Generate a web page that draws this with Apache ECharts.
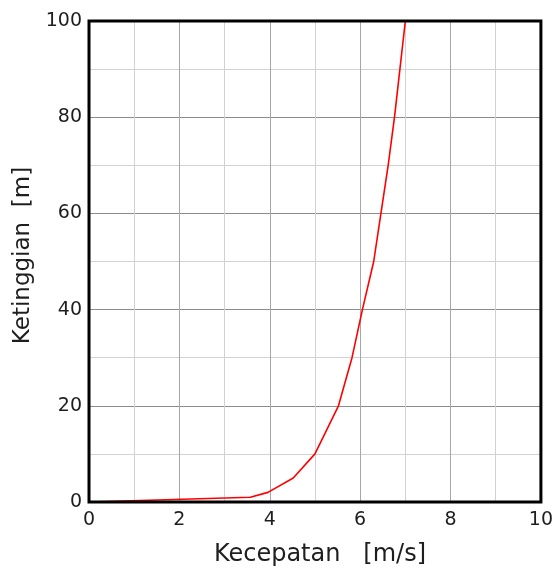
<!DOCTYPE html>
<html>
<head>
<meta charset="utf-8">
<script src="https://cdn.jsdelivr.net/npm/echarts@6/dist/echarts.min.js"></script>
<style>
html,body{margin:0;padding:0;background:#fff;}
#c{width:556px;height:572px;}
</style>
</head>
<body>
<div id="c"></div>
<script>
var speeds  = [0, 3.57, 3.96, 4.52, 5.0, 5.52, 5.82, 6.05, 6.30, 6.46, 6.62, 6.76, 6.88, 7.0];
var heights = [0, 1,    2,    5,    10,  20,   30,   40,   50,   60,   70,   80,   90,   100];
var xTicks = [0, 2, 4, 6, 8, 10];
var yTicks = [0, 20, 40, 60, 80, 100];
var xTitle = 'Kecepatan   [m/s]';
var yTitle = 'Ketinggian  [m]';

var chart = echarts.init(document.getElementById('c'), null, {renderer:'canvas'});
var pts = speeds.map(function(v,i){return [v, heights[i]];});
var font = 'DejaVu Sans, Verdana, sans-serif';
chart.setOption({
  backgroundColor:'#fff',
  animation:false,
  grid:{left:89, top:21, right:13, bottom:69, show:true, borderColor:'#000', borderWidth:3, backgroundColor:'transparent', z:5},
  xAxis:{
    type:'value', min:0, max:10, interval:1,
    name:xTitle, nameLocation:'middle', nameGap:41,
    nameTextStyle:{fontFamily:font, fontSize:24, color:'#1e1e1e', padding:[0,0,0,10]},
    axisLine:{show:false}, axisTick:{show:false},
    axisLabel:{margin:9, fontFamily:font, fontSize:19, color:'#1e1e1e',
      formatter:function(v){return xTicks.indexOf(v)>=0 ? String(v) : '';}},
    splitLine:{show:true, lineStyle:{color:['#a6a6a6','#d2d2d2'], width:1}}
  },
  yAxis:{
    type:'value', min:0, max:100, interval:10,
    name:yTitle, nameLocation:'middle', nameGap:53, nameRotate:90,
    nameTextStyle:{fontFamily:font, fontSize:23, color:'#1e1e1e', padding:[0,0,0,12]},
    axisLine:{show:false}, axisTick:{show:false},
    axisLabel:{margin:7, fontFamily:font, fontSize:19, color:'#1e1e1e',
      formatter:function(v){return yTicks.indexOf(v)>=0 ? String(v) : '';}},
    splitLine:{show:true, lineStyle:{color:['#8c8c8c','#d2d2d2'], width:1}}
  },
  series:[{
    type:'line', data:pts, showSymbol:false, smooth:false, clip:true,
    lineStyle:{color:'#ff0000', width:1.6}, z:3
  }]
});
</script>
</body>
</html>
